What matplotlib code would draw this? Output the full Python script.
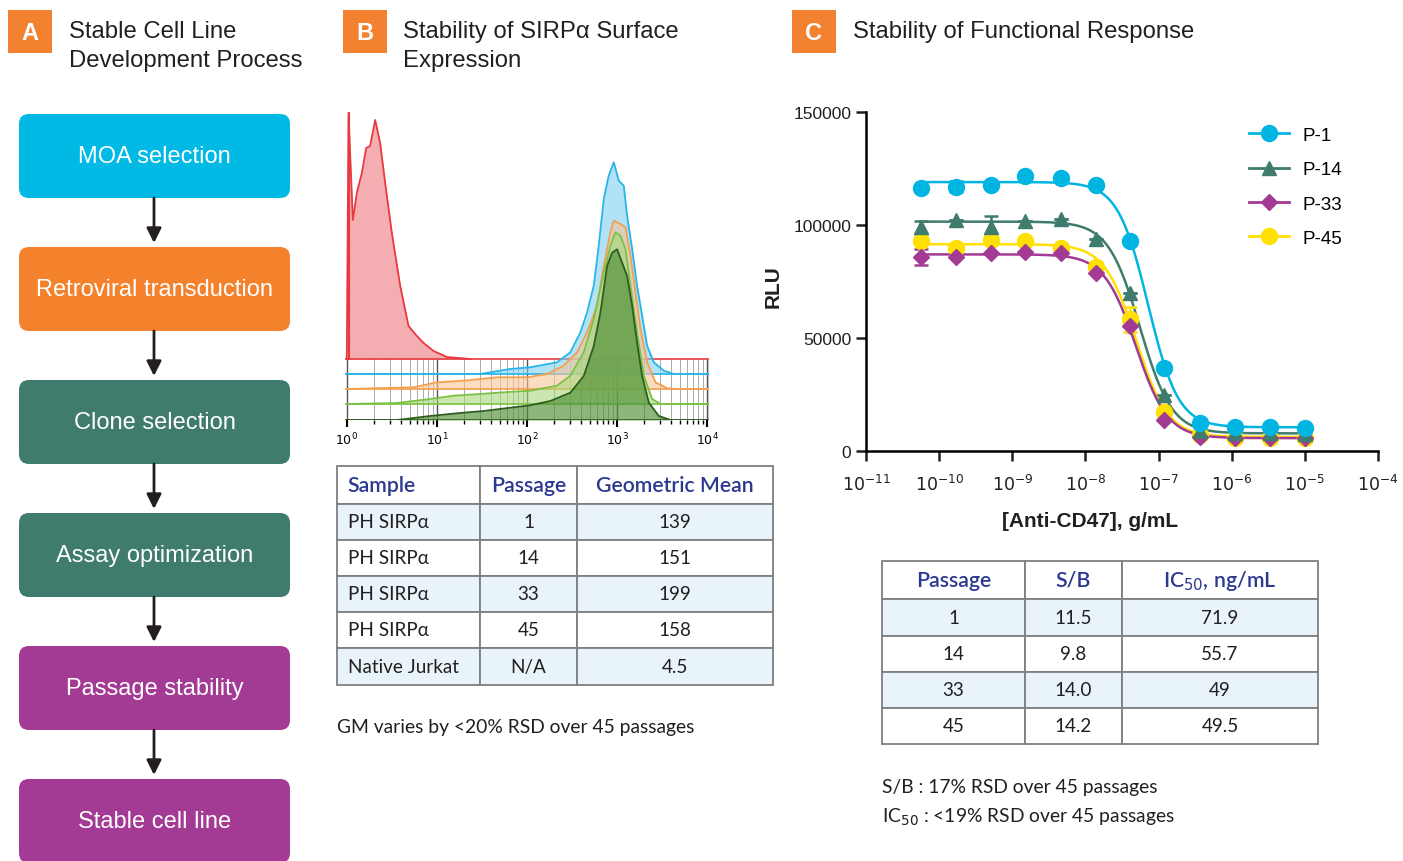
import numpy as np
import matplotlib
matplotlib.use('Agg')
import matplotlib.pyplot as plt
from matplotlib.patches import Rectangle, FancyBboxPatch

W, H = 1403, 862
SANS = ['Liberation Sans', 'DejaVu Sans']
TAB = ['Lato', 'DejaVu Sans']
NAVY = '#2B3990'
ORANGE = '#F28230'

# ---- panel A: process steps
steps = ['MOA selection', 'Retroviral transduction', 'Clone selection',
         'Assay optimization', 'Passage stability', 'Stable cell line']
step_colors = ['#00B9E4', '#F4822D', '#3F7C6E', '#3F7C6E', '#A33A93', '#A33A93']

# ---- panel B: offset histograms (log10 fluorescence, height)
hist_names = ['Native Jurkat', 'P-1', 'P-14', 'P-33', 'P-45']
red_x = [0.0, 0.019, 0.067, 0.111, 0.167, 0.215, 0.259, 0.315, 0.370, 0.426, 0.5,
         0.593, 0.685, 0.778, 0.852, 0.963, 1.111, 1.37]
red_h = [0, 246, 139, 166, 186, 211, 213, 239, 216, 176, 126, 73, 33, 23, 16, 8, 2, 0]
blue_x = [0.0, 1.48, 1.815, 2.037, 2.333, 2.481, 2.593, 2.667, 2.741, 2.796, 2.852, 2.907,
          2.963, 3.019, 3.074, 3.111, 3.167, 3.222, 3.278, 3.333, 3.407, 3.519, 3.63, 4.0]
blue_h = [0, 0, 5, 6.7, 11.7, 21.7, 41.7, 61.7, 88.3, 128.3, 175, 198.3, 211.7, 193.3,
          188.3, 158.3, 125, 88.3, 58.3, 28.3, 11.7, 3.3, 0, 0]
orange_x = [0.0, 0.741, 1.0, 1.296, 1.667, 2.0, 2.222, 2.407, 2.556, 2.667, 2.778, 2.852,
            2.926, 2.963, 3.037, 3.093, 3.148, 3.204, 3.259, 3.333, 3.426, 3.556, 3.67, 4.0]
orange_h = [0, 1.7, 6.7, 8.3, 11.7, 11.7, 15, 23.3, 36.7, 56.7, 83.3, 123.3, 156.7, 168.3,
            165, 161.7, 133.3, 96.7, 60, 26.7, 6.7, 0.7, 0, 0]
lgreen_x = [0.0, 0.556, 0.926, 1.185, 1.481, 1.741, 2.037, 2.333, 2.481, 2.63, 2.741, 2.852,
            2.926, 2.981, 3.037, 3.093, 3.148, 3.222, 3.296, 3.389, 3.481, 4.0]
lgreen_h = [0, 1, 5, 8.3, 10, 11.7, 13.3, 18.3, 28.3, 51.7, 85, 131.7, 158.3, 171.7, 168.3,
            155, 118.3, 71.7, 28.3, 5, 0, 0]
dgreen_x = [0.0, 0.556, 0.926, 1.222, 1.519, 1.815, 2.037, 2.259, 2.481, 2.63, 2.741, 2.815,
            2.889, 2.944, 3.0, 3.056, 3.111, 3.167, 3.222, 3.278, 3.352, 3.463, 3.593, 4.0]
dgreen_h = [0, 0, 4, 6.7, 9, 12.3, 14.7, 19, 27.3, 44, 74, 107.3, 154, 167.3, 170.7, 157.3,
            144, 114, 77.3, 44, 17.3, 4, 0, 0]

tb_header = ['Sample', 'Passage', 'Geometric Mean']
tb_sample = ['PH SIRPα', 'PH SIRPα', 'PH SIRPα', 'PH SIRPα', 'Native Jurkat']
tb_passage = ['1', '14', '33', '45', 'N/A']
tb_gm = ['139', '151', '199', '158', '4.5']

# ---- panel C: dose response
conc = [5.6e-11, 1.7e-10, 5.1e-10, 1.5e-9, 4.6e-9, 1.4e-8, 4.1e-8, 1.2e-7,
        3.7e-7, 1.1e-6, 3.3e-6, 1.0e-5]
series = ['P-1', 'P-14', 'P-33', 'P-45']
p1 = [116300, 117000, 117800, 121900, 120700, 117500, 93100, 36900, 12250, 10800, 10800, 10300]
p14 = [98900, 102300, 99300, 101800, 102600, 93700, 69800, 24800, 8900, 8000, 7800, 7600]
p33 = [85800, 85800, 87500, 88000, 87500, 78700, 55500, 13700, 6350, 5600, 5600, 5600]
p45 = [92700, 90000, 93400, 92700, 90000, 81600, 58300, 17400, 7100, 5900, 5900, 5900]
p1_err = [0, 2500, 0, 0, 0, 0, 0, 0, 0, 0, 0, 0]
p14_err = [3000, 0, 4500, 0, 0, 0, 0, 0, 0, 0, 0, 0]
p33_err = [3500, 0, 0, 0, 0, 0, 0, 0, 0, 0, 0, 0]
p45_err = [0, 0, 2000, 0, 0, 2000, 5500, 0, 0, 0, 0, 0]
# 4PL fit parameters
fit_top = [119000, 101500, 87000, 91500]
fit_bottom = [10500, 7800, 5700, 6200]
fit_ic50 = [71.9, 55.7, 49.0, 49.5]   # ng/mL
fit_hill = [2.1, 2.0, 2.0, 2.0]

tc_header = ['Passage', 'S/B', 'IC$_{50}$, ng/mL']
tc_passage = ['1', '14', '33', '45']
tc_sb = ['11.5', '9.8', '14.0', '14.2']
tc_ic50 = ['71.9', '55.7', '49', '49.5']


def frac(x0, y0, x1, y1):
    return [x0 / W, 1 - y1 / H, (x1 - x0) / W, (y1 - y0) / H]


fig = plt.figure(figsize=(W / 100, H / 100), dpi=100)
ov = fig.add_axes([0, 0, 1, 1])
ov.set_xlim(0, W)
ov.set_ylim(H, 0)
ov.axis('off')

# panel headers
for lx, letter, tx, lines in [(8, 'A', 69, ['Stable Cell Line', 'Development Process']),
                              (343, 'B', 403, ['Stability of SIRPα Surface', 'Expression']),
                              (792, 'C', 853, ['Stability of Functional Response'])]:
    ov.add_patch(Rectangle((lx, 11), 44, 43, color=ORANGE, lw=0))
    ov.text(lx + 22, 33, letter, color='white', fontsize=17, fontweight='bold',
            ha='center', va='center', family=SANS)
    for k, line in enumerate(lines):
        ov.text(tx, 32 + 29.5 * k, line, fontsize=17.2, color='#231F20', va='center',
                ha='left', family=SANS)

# panel A flow
tops = [115, 248, 381, 514, 647, 780]
for i, (name, col) in enumerate(zip(steps, step_colors)):
    t = tops[i]
    ov.add_patch(FancyBboxPatch((19, t), 271, 84, boxstyle='round,pad=0,rounding_size=10',
                                fc=col, ec='none'))
    ov.text(154.5, t + 42, name, color='white', fontsize=17, ha='center', va='center',
            family=SANS)
    if i < len(steps) - 1:
        ov.annotate('', xy=(154, t + 129), xytext=(154, t + 84),
                    arrowprops=dict(arrowstyle='-|>', color='#231F20', lw=2,
                                    mutation_scale=22, shrinkA=0, shrinkB=0))


def draw_table(xe, ye, header, cols, left_first):
    for r in range(len(ye) - 1):
        for c in range(len(xe) - 1):
            fc = '#E8F4FA' if (r % 2 == 1) else 'white'
            ov.add_patch(Rectangle((xe[c], ye[r]), xe[c + 1] - xe[c], ye[r + 1] - ye[r],
                                   fc=fc, ec='#7F7F7F', lw=1.3))
    for c, h in enumerate(header):
        yc = (ye[0] + ye[1]) / 2
        if left_first and c == 0:
            ov.text(xe[0] + 10, yc, h, color=NAVY, fontsize=15.3, ha='left', va='center',
                    family=TAB, fontweight='semibold')
        else:
            ov.text((xe[c] + xe[c + 1]) / 2, yc, h, color=NAVY, fontsize=15.3, ha='center',
                    va='center', family=TAB, fontweight='semibold')
    for c, vals in enumerate(cols):
        for r, v in enumerate(vals):
            yc = (ye[r + 1] + ye[r + 2]) / 2
            if left_first and c == 0:
                ov.text(xe[0] + 11, yc, v, color='#231F20', fontsize=13.6, ha='left',
                        va='center', family=TAB)
            else:
                ov.text((xe[c] + xe[c + 1]) / 2, yc, v, color='#231F20', fontsize=13.6,
                        ha='center', va='center', family=TAB)


draw_table([337, 480, 577, 773], [467, 505, 541, 577, 613, 649, 686],
           tb_header, [tb_sample, tb_passage, tb_gm], True)
ov.text(337, 728, 'GM varies by <20% RSD over 45 passages', fontsize=13.9, color='#231F20',
        va='center', family=TAB)

draw_table([882, 1025, 1122, 1318], [562, 600, 637, 673, 709, 745],
           tc_header, [tc_passage, tc_sb, tc_ic50], False)
ov.text(882, 788, 'S/B : 17% RSD over 45 passages', fontsize=13.9, color='#231F20',
        va='center', family=TAB)
ov.text(882, 817, 'IC$_{50}$ : <19% RSD over 45 passages', fontsize=13.9, color='#231F20',
        va='center', family=TAB)

# ---- panel B histogram overlay
hx = fig.add_axes(frac(345, 112, 709, 421))
hx.patch.set_alpha(0)
bases = [61, 46, 31, 16, 0]
line_cols = ['#E8393F', '#27B5E6', '#F5A04E', '#7CC143', '#2D5E1E']
fill_cols = ['#F08A8F', '#7FD0F0', '#F8C597', '#A5D77A', '#4E8F33']
alphas = [0.7, 0.6, 0.6, 0.6, 0.65]
xs_all = [red_x, blue_x, orange_x, lgreen_x, dgreen_x]
hs_all = [red_h, blue_h, orange_h, lgreen_h, dgreen_h]
xmin, xmax = 10 ** -0.02, 10 ** 4.02
minor = [m * 10 ** k for k in range(4) for m in range(2, 10)]
hx.vlines(minor, 0, bases[0], color='#AAAAAA', lw=0.7, zorder=1)
hx.vlines([1, 10, 100, 1000, 10000], 0, bases[0], color='#555555', lw=1.0, zorder=1)
hx.vlines([xmax * 0.995], 0, bases[0], color='#555555', lw=1.0, zorder=1)
for i in range(5):
    x = 10 ** np.array(xs_all[i])
    b = bases[i]
    y = b + np.array(hs_all[i])
    hx.fill_between(x, b, y, color=fill_cols[i], alpha=alphas[i], lw=0, zorder=2 + i)
    hx.plot(x, y, color=line_cols[i], lw=1.3, zorder=2 + i)
    hx.hlines(b, xmin, xmax, color=line_cols[i], lw=1.2, zorder=2 + i)
hx.plot([10 ** red_x[1]] * 2, [bases[0], bases[0] + red_h[1]], color=line_cols[0], lw=1.5)
hx.set_xscale('log')
hx.set_xlim(xmin, xmax)
hx.set_ylim(0, 309)
for s in hx.spines.values():
    s.set_visible(False)
hx.set_yticks([])
hx.set_xticks([1, 10, 100, 1000, 10000])
hx.set_xticklabels(['$10^{0}$', '$10^{1}$', '$10^{2}$', '$10^{3}$', '$10^{4}$'])
hx.tick_params(axis='x', which='major', length=5, width=1.5, labelsize=9, pad=3)
hx.tick_params(axis='x', which='minor', length=3, width=1.0)

# ---- panel C dose response
ax = fig.add_axes(frac(866, 113, 1378, 452))
ax.patch.set_alpha(0)
colors = ['#00B5E2', '#3F7C6E', '#A33A93', '#FFE000']
markers = ['o', '^', 'D', 'o']
msizes = [11.5, 10, 8.5, 11.5]
data = [p1, p14, p33, p45]
errs = [p1_err, p14_err, p33_err, p45_err]
xfit = np.logspace(np.log10(conc[0]), np.log10(conc[-1]), 400)
handles = []
for i in [3, 2, 1, 0]:
    ic = fit_ic50[i] * 1e-9
    yfit = fit_bottom[i] + (fit_top[i] - fit_bottom[i]) / (1 + (xfit / ic) ** fit_hill[i])
    ax.plot(xfit, yfit, color=colors[i], lw=1.8, zorder=3)
    ax.errorbar(conc, data[i], yerr=errs[i], fmt='none', ecolor=colors[i], elinewidth=1.8,
                capsize=5, capthick=1.8, zorder=4)
    ax.plot(conc, data[i], ls='none', marker=markers[i], ms=msizes[i], color=colors[i],
            mec=colors[i], zorder=5)
for i in range(4):
    h, = ax.plot([], [], color=colors[i], lw=2, marker=markers[i], ms=msizes[i])
    handles.append(h)
ax.set_xscale('log')
ax.set_xlim(1e-11, 1e-4)
ax.set_ylim(0, 150000)
ax.set_yticks([0, 50000, 100000, 150000])
ax.set_yticklabels(['0', '50000', '100000', '150000'])
ax.set_xticks([10.0 ** k for k in range(-11, -3)])
ax.set_xticklabels(['$10^{%d}$' % k for k in range(-11, -3)])
ax.minorticks_off()
for s in ['top', 'right']:
    ax.spines[s].set_visible(False)
for s in ['left', 'bottom']:
    ax.spines[s].set_linewidth(1.8)
ax.tick_params(length=7, width=1.8, labelsize=12.5, colors='#231F20')
ax.tick_params(axis='x', pad=9)
for lab in ax.get_xticklabels() + ax.get_yticklabels():
    lab.set_family(SANS)
ax.legend(handles, series, loc='upper left', bbox_to_anchor=((1238 - 866) / 512, 0.99),
          frameon=False, handlelength=2.1, labelspacing=0.92,
          handletextpad=0.75, borderaxespad=0.2, prop={'family': SANS, 'size': 13.5})
ov.text(773, 287, 'RLU', rotation=90, fontsize=15, fontweight='bold', ha='center',
        va='center', family=SANS, color='#231F20')
ov.text(1090, 522, '[Anti-CD47], g/mL', fontsize=15, fontweight='bold', ha='center',
        va='center', family=SANS, color='#231F20')

fig.savefig('out.png', dpi=100)
